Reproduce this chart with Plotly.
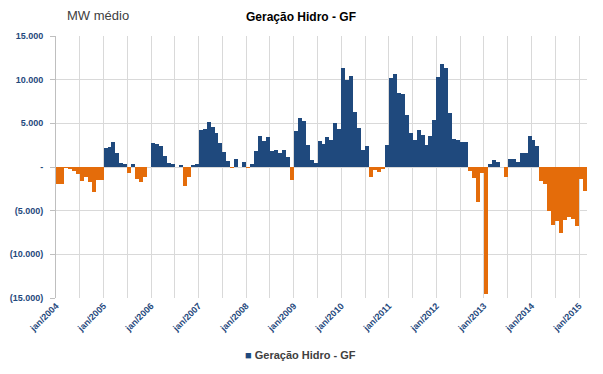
import plotly.graph_objects as go

# Monthly values, jan/2004 .. feb/2015 (MW médio)
values = [
    -1950, -1950, -100, -200, -500, -800, -1600, -1200, -1700, -2900, -1500, -1500,   # 2004
    2200, 2300, 2850, 1600, 500, 400, -650, 300, -1400, -1700, -1100, 0,             # 2005
    2700, 2650, 2400, 1300, 450, 350, 0, 250, -2200, -1100, 150, 300,                # 2006
    4200, 4300, 5100, 4600, 3900, 2800, 1700, 700, -50, 950, 0, 550,                 # 2007
    -100, 300, 1800, 3500, 3000, 3400, 1800, 1900, 1600, 1900, 1150, -1500,          # 2008
    4100, 5600, 5300, 2550, 750, 450, 2950, 2600, 3400, 3100, 5050, 4350,            # 2009
    11300, 10000, 10400, 6350, 4500, 1900, 2400, -1150, -300, -600, -150, 2500,      # 2010
    10200, 10650, 8450, 8350, 5950, 3900, 3100, 4250, 3700, 2500, 3500, 5400,        # 2011
    10350, 11850, 11350, 6150, 3200, 3100, 2900, 2900, -500, -1300, -4000, -700,     # 2012
    -14500, 400, 800, 600, 0, -1150, 950, 950, 600, 1600, 1650, 3500,                # 2013
    3100, 2350, -1600, -1900, -5000, -6600, -6200, -7600, -6100, -5700, -6000, -6700,  # 2014
    -1400, -2800,                                                                    # 2015
]
year_labels = [f"jan/{y}" for y in range(2004, 2016)]

y_tickvals = [15000, 10000, 5000, 0, -5000, -10000, -15000]
y_ticktext = ["15.000", "10.000", "5.000", "-", "(5.000)", "(10.000)", "(15.000)"]

series_name = "Geração Hidro - GF"
title_text = "Geração Hidro - GF"
unit_text = "MW médio"

BLUE = "#1F497D"
ORANGE = "#E46C0A"
FONT = "Liberation Sans"

# the page body adds an 8px offset; figure coordinates = page coordinates - 8
OFF = 8
W, H = 603 - OFF, 374 - OFF
L = 56 - OFF
T = 35.5 - OFF
R = W - (587 - OFF)
B = H - (297.7 - OFF)
PW, PH = W - L - R, H - T - B

n = len(values)
xs = list(range(n))
pos = [v if v > 0 else None for v in values]
neg = [v if v < 0 else None for v in values]

fig = go.Figure()
fig.add_trace(go.Bar(x=xs, y=pos, name=series_name, marker=dict(color=BLUE, line=dict(width=0)),
                     showlegend=False))
fig.add_trace(go.Bar(x=xs, y=neg, name=series_name, marker=dict(color=ORANGE, line=dict(width=0)),
                     showlegend=False))

# gridlines every 6 months, labels every 12 months
x_tickvals = [k - 0.5 for k in range(0, n + 1, 6)]
x_ticktext = []
for k in range(0, n + 1, 6):
    if k % 12 == 0 and k // 12 < len(year_labels):
        x_ticktext.append(year_labels[k // 12])
    else:
        x_ticktext.append("")

fig.update_layout(
    width=W, height=H,
    margin=dict(l=L, r=R, t=T, b=B),
    paper_bgcolor="white", plot_bgcolor="white",
    barmode="overlay", bargap=0,
    showlegend=False,
    font=dict(family=FONT, color="#404040"),
    title=dict(text=f"<b>{title_text}</b>", x=(301 - OFF) / W, xref="container",
               y=1 - (17 - OFF) / H, yref="container", xanchor="center", yanchor="middle",
               automargin=False, font=dict(size=12, family=FONT, color="#000000")),
    xaxis=dict(range=[-0.5, n - 0.5], tickmode="array", tickvals=x_tickvals, ticktext=x_ticktext,
               tickangle=-45, showgrid=True, gridcolor="#D9D9D9", gridwidth=1,
               showline=False, zeroline=False, ticks="", automargin=False,
               tickfont=dict(size=9, family=FONT, color=BLUE, weight="bold")),
    yaxis=dict(range=[-15000, 15000], tickmode="array", tickvals=y_tickvals, ticktext=y_ticktext,
               showgrid=True, gridcolor="#D9D9D9", gridwidth=1,
               showline=True, linecolor="#BFBFBF", linewidth=1,
               zeroline=True, zerolinecolor="#D9D9D9", zerolinewidth=1,
               ticks="outside", ticklen=5, tickcolor="#BFBFBF", automargin=False,
               ticklabelstandoff=5,
               tickfont=dict(size=9, family=FONT, color=BLUE, weight="bold")),
    annotations=[
        dict(text=unit_text, xref="paper", yref="paper", x=(65 - 56) / PW,
             y=1 + (35.5 - 15) / PH, xanchor="left", yanchor="middle",
             showarrow=False, font=dict(size=13, family=FONT, color="#404040")),
        # legend entry
        dict(text=f"<span style='color:{BLUE}'>■</span> <b>{series_name}</b>",
             xref="paper", yref="paper", x=(300 - 56) / PW,
             y=-(355 - 297.7) / PH, xanchor="center", yanchor="middle",
             showarrow=False, font=dict(size=11, family=FONT, color="#404040")),
    ],
)

fig.write_html("out.html")
